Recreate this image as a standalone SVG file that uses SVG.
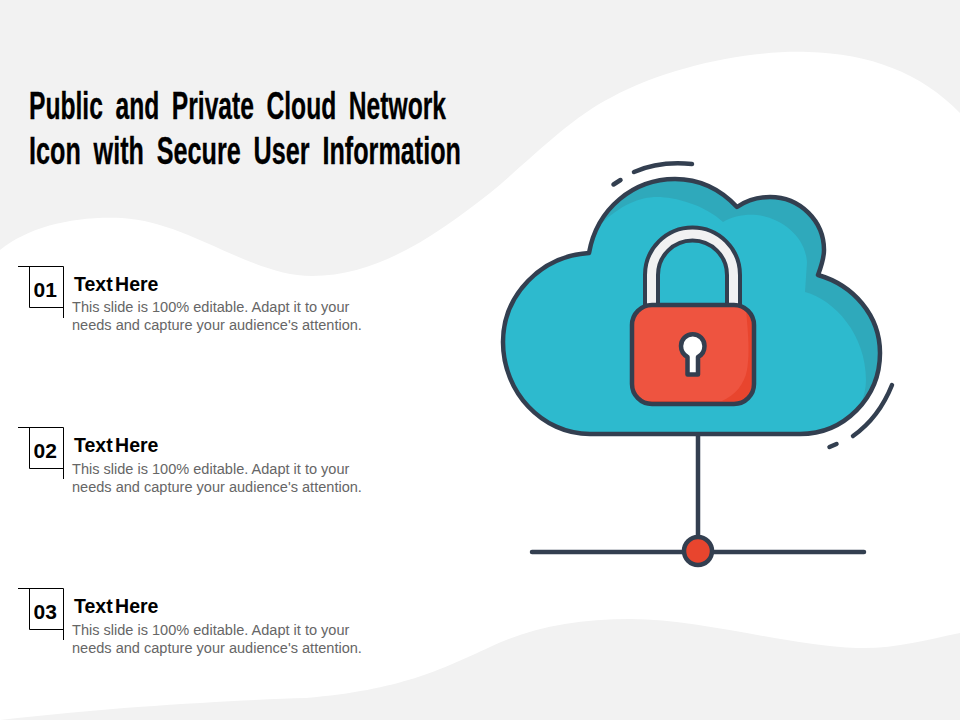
<svg xmlns="http://www.w3.org/2000/svg" width="960" height="720" viewBox="0 0 960 720">
<style>
.title{font-family:"Liberation Sans Narrow","Liberation Sans",sans-serif;font-weight:700;font-size:39px;fill:#000;word-spacing:9px;stroke:#000;stroke-width:.3px}
.num{font-family:"Liberation Sans",sans-serif;font-weight:700;font-size:21px;fill:#000}
.head{font-family:"Liberation Sans",sans-serif;font-weight:700;font-size:19.500px;fill:#000;word-spacing:-3px}
.body{font-family:"Liberation Sans",sans-serif;font-size:14.550px;fill:#666}
.br{fill:none;stroke:#000;stroke-width:1}
.ink{fill:none;stroke:#333f50;stroke-width:4.500;stroke-linecap:round;stroke-linejoin:round}
</style>
<defs>
<path id="cloud" d="M589 253C597 208 634 179 675 179C702 179 722 191 737 207C747 200 758 197 770 197C800 197 824 221 824 250C824 259 821 267 818 275C853 285 880 315 880 353C880 398 844 434 800 434L590 434C542 434 503 392 503 342C503 295 541 256 589 253Z"/>
<clipPath id="cloudClip"><use href="#cloud"/></clipPath>
<clipPath id="bodyClip"><rect x="632" y="305" width="122" height="99" rx="20"/></clipPath>
<g id="bracket"><path class="br" d="M18 266.500H63.500V318M29.500 266.500V307.500H63.500"/></g>
</defs>
<g id="background">
<rect width="960" height="720" fill="#f2f2f2"/>
<path fill="#fff" d="M0 250C30 226 75 216 122 218C190 222 250 276 312 276C380 276 440 232 490 193C530 160 570 118 612 97C670 66 750 50 808 52C870 54 920 72 960 113V633C925 640 895 649 857 648C790 646 700 619 631 619C575 619 530 628 490 647C440 670 400 690 306 698C240 700 120 706 0 720Z"/>
</g>
<g id="title">
<text class="title" x="29" y="119" textLength="417" lengthAdjust="spacingAndGlyphs">Public and Private Cloud Network</text>
<text class="title" x="29" y="164" textLength="432" lengthAdjust="spacingAndGlyphs">Icon with Secure User Information</text>
</g>
<g id="item-01">
<use href="#bracket"/>
<text class="num" x="33.500" y="297">01</text>
<text class="head" x="74" y="290.500">Text Here</text>
<text class="body" x="72" y="312">This slide is 100% editable. Adapt it to your</text>
<text class="body" x="72" y="330">needs and capture your audience's attention.</text>
</g>
<g id="item-02">
<use href="#bracket" y="161"/>
<text class="num" x="33.500" y="458">02</text>
<text class="head" x="74" y="451.500">Text Here</text>
<text class="body" x="72" y="473.500">This slide is 100% editable. Adapt it to your</text>
<text class="body" x="72" y="491.500">needs and capture your audience's attention.</text>
</g>
<g id="item-03">
<use href="#bracket" y="322"/>
<text class="num" x="33.500" y="619">03</text>
<text class="head" x="74" y="612.500">Text Here</text>
<text class="body" x="72" y="634.500">This slide is 100% editable. Adapt it to your</text>
<text class="body" x="72" y="652.500">needs and capture your audience's attention.</text>
</g>
<g id="connectors">
<path class="ink" stroke-linecap="butt" d="M698 434V551"/>
<path class="ink" d="M532 552H864"/>
</g>
<g id="cloud-node">
<use href="#cloud" fill="#2fa9bb"/>
<path clip-path="url(#cloudClip)" fill="#2dbace" d="M495 445V225H600C620 205 640 197 657 197C675 197 705 205 723 222C733 216 745 214 757 215C780 218 805 235 807 262L805 292C835 300 866 335 866 380C866 400 855 420 835 445Z"/>
<use href="#cloud" class="ink"/>
<path class="ink" d="M634 172C652 164 672 162 692 164"/>
<path class="ink" d="M613.500 184.500L620.500 180"/>
<path class="ink" d="M892 385C884 405 870 424 853 436"/>
<path class="ink" d="M829.500 447L836.500 444"/>
</g>
<g id="lock">
<path d="M651.500 306V275A41 41 0 0 1 733.500 275V306" fill="none" stroke="#333f50" stroke-width="17"/>
<path d="M651.500 306V275A41 41 0 0 1 733.500 275V306" fill="none" stroke="#f1f1f2" stroke-width="9"/>
<rect x="632" y="305" width="122" height="99" rx="20" fill="#e8452e"/>
<path clip-path="url(#bodyClip)" fill="#ee5440" d="M625 300H745C748 330 750 352 747 370C744 385 735 395 722 401H625Z"/>
<rect x="632" y="305" width="122" height="99" rx="20" class="ink"/>
<path class="ink" style="fill:#fff" d="M687.500 374.500H698V357C702 355 704.500 351 704.500 346A11.700 11.700 0 1 0 681 346C681 351 684 355 687.500 357Z"/>
</g>
<g id="junction">
<circle cx="698" cy="551" r="14" fill="#e8452e" stroke="#333f50" stroke-width="4.500"/>
</g>
</svg>
